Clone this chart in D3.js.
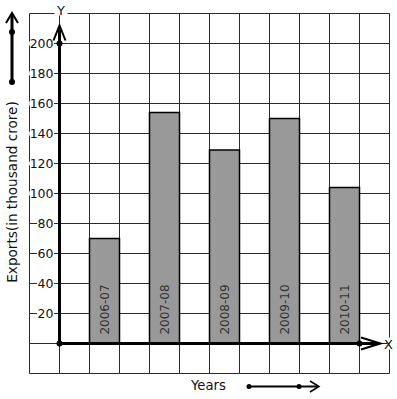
<!DOCTYPE html>
<html><head><meta charset="utf-8">
<script src="https://cdn.jsdelivr.net/npm/d3@7"></script>
<style>body{margin:0;background:#fff}svg{display:block}text{font-family:"DejaVu Sans",sans-serif}</style>
</head><body>
<svg id="c" width="397" height="399"></svg>
<script>
const categories = ["2006-07","2007-08","2008-09","2009-10","2010-11"];
const exportsValues = [70,154,129,150,104];
const tickValues = [20,40,60,80,100,120,140,160,180,200];
const tickLabels = ["20","40","60","80","100","120","140","160","180","200"];

const svg = d3.select("#c");
const x = d3.scaleLinear().domain([0,12]).range([29.5,389.5]);
const y = d3.scaleLinear().domain([-20,220]).range([373.5,13.5]);
const col = i => 2 + 2*i;

// grid
const g = svg.append("g").attr("stroke","#2a2a2a").attr("stroke-width",1);
d3.range(0,13).forEach(i=>{
  g.append("line").attr("x1",x(i)).attr("x2",x(i)).attr("y1",y(220)).attr("y2",y(-20));
});
d3.range(-20,221,20).forEach(v=>{
  g.append("line").attr("x1",x(0)).attr("x2",x(12)).attr("y1",y(v)).attr("y2",y(v));
});

// bars
svg.append("g").selectAll("rect").data(exportsValues).join("rect")
  .attr("x",(d,i)=>x(col(i))).attr("width",(d,i)=>x(col(i)+1)-x(col(i)))
  .attr("y",d=>y(d)).attr("height",d=>y(0)-y(d))
  .attr("fill","#999").attr("stroke","#000").attr("stroke-width",1.5);

// bar labels
svg.append("g").selectAll("text").data(categories).join("text")
  .attr("transform",(d,i)=>`translate(${x(col(i)+0.5)+4},${y(0)-34}) rotate(-90)`)
  .attr("text-anchor","middle").attr("font-size",12).attr("fill","#333").text(d=>d);

// tick labels with white background
const tl = svg.append("g");
tickValues.forEach((v,i)=>{
  const t = tl.append("text").attr("x",x(1)-6).attr("y",y(v)+4.5).attr("text-anchor","end")
    .attr("font-size",12.5).attr("fill","#111").text(tickLabels[i]);
  const b = t.node().getBBox();
  tl.insert("rect",()=>t.node()).attr("x",b.x-0.5).attr("y",y(v)-2).attr("width",b.width+1).attr("height",4).attr("fill","#fff");
});

// axes
const ax = svg.append("g").attr("stroke","#000").attr("stroke-width",3).attr("fill","none");
ax.append("line").attr("x1",x(1)).attr("x2",x(1)).attr("y1",y(0)).attr("y2",y(209));
ax.append("path").attr("d",`M${x(1)-6},${y(202)} L${x(1)},${y(212)} L${x(1)+6},${y(202)}`).attr("stroke-width",2);
ax.append("line").attr("x1",x(1)).attr("x2",x(11.6)).attr("y1",y(0)).attr("y2",y(0));
ax.append("path").attr("d",`M${x(11.05)},${y(0)-6} L${x(11.7)},${y(0)} L${x(11.05)},${y(0)+6}`).attr("stroke-width",2);
svg.append("circle").attr("cx",x(1)).attr("cy",y(0)).attr("r",3).attr("fill","#000");
svg.append("circle").attr("cx",x(1)).attr("cy",y(200)).attr("r",3).attr("fill","#000");
svg.append("circle").attr("cx",x(11)).attr("cy",y(0)).attr("r",3).attr("fill","#000");

// axis letters
svg.append("rect").attr("x",x(1)-5).attr("y",y(220)-2).attr("width",13).attr("height",4).attr("fill","#fff");
svg.append("text").attr("x",x(1)+1.5).attr("y",y(220)+1.5).attr("text-anchor","middle").attr("font-size",13).attr("fill","#111").text("Y");
svg.append("rect").attr("x",x(12)-2).attr("y",y(0)-6).attr("width",4).attr("height",12).attr("fill","#fff");
svg.append("text").attr("x",x(12)-1).attr("y",y(0)+5).attr("text-anchor","middle").attr("font-size",13).attr("fill","#111").text("X");

// y title
svg.append("text").attr("transform",`translate(17,192) rotate(-90)`).attr("text-anchor","middle")
  .attr("font-size",13.6).attr("fill","#111").text("Exports(in thousand crore)");

// left arrow legend
const la = svg.append("g").attr("stroke","#000").attr("fill","none");
la.append("line").attr("x1",12).attr("x2",12).attr("y1",82).attr("y2",15).attr("stroke-width",3);
la.append("path").attr("d","M6,23 L12,13 L18,23").attr("stroke-width",2);
svg.append("circle").attr("cx",12).attr("cy",32).attr("r",3).attr("fill","#000");
svg.append("circle").attr("cx",12).attr("cy",82).attr("r",3).attr("fill","#000");

// bottom legend
svg.append("text").attr("x",191).attr("y",390).attr("font-size",13.2).attr("fill","#111").text("Years");
const ba = svg.append("g").attr("stroke","#000").attr("fill","none");
ba.append("line").attr("x1",249).attr("x2",318).attr("y1",386.5).attr("y2",386.5).attr("stroke-width",2);
ba.append("path").attr("d","M310,381 L319,386.5 L310,392").attr("stroke-width",1.5);
svg.append("circle").attr("cx",249).attr("cy",386.5).attr("r",2.5).attr("fill","#000");
svg.append("circle").attr("cx",299).attr("cy",386.5).attr("r",2.5).attr("fill","#000");
</script>
</body></html>
